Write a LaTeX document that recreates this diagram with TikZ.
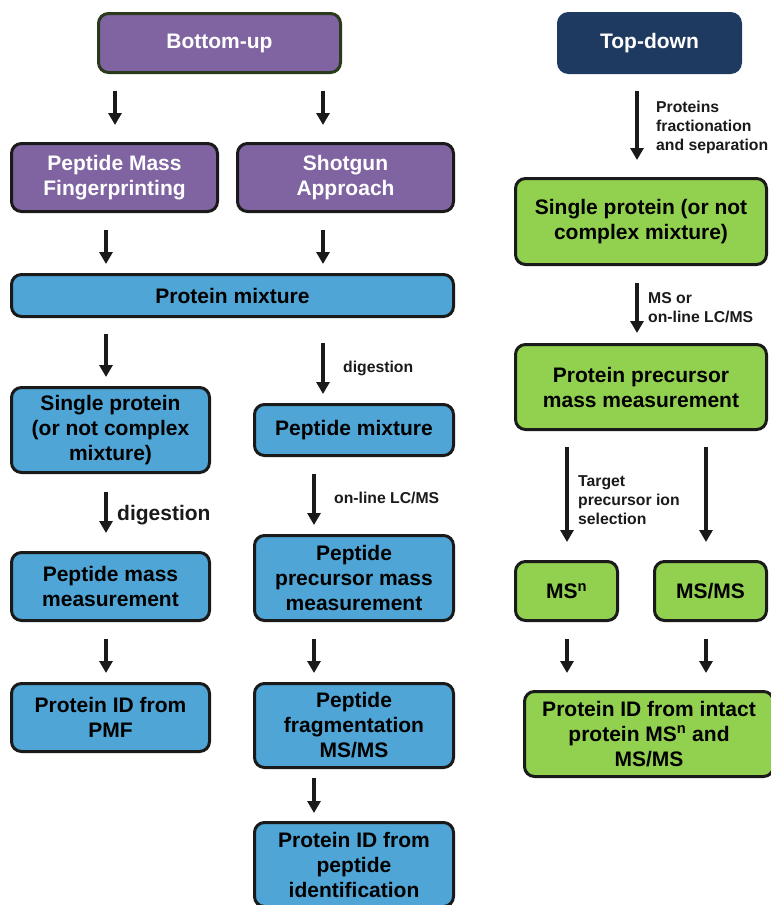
\documentclass[tikz,border=0pt]{standalone}
\usepackage{fontspec}
\setmainfont{Liberation Sans}
\usetikzlibrary{arrows.meta}
\definecolor{purp}{HTML}{8064A2}
\definecolor{bluef}{HTML}{4FA5D5}
\definecolor{greenf}{HTML}{92D050}
\definecolor{navy}{HTML}{1F3A60}
\definecolor{edge}{HTML}{1A1A1A}
\definecolor{olive}{HTML}{2A3A1C}
\begin{document}
\begin{tikzpicture}[x=1pt,y=-1pt,
  box/.style={draw=edge, line width=3pt, rounded corners=10pt, align=center,
    font=\bfseries\fontsize{21}{25}\selectfont, inner sep=0pt},
  pbox/.style={box, fill=purp, text=white},
  bbox/.style={box, fill=bluef, text=black},
  gbox/.style={box, fill=greenf, text=black},
  arr/.style={draw=edge, line width=4pt, -{Triangle[width=13pt,length=12pt]}},
  lab/.style={anchor=west, align=left, font=\bfseries\fontsize{15.75}{19}\selectfont, inner sep=0pt, text=edge}]
\useasboundingbox (0,0) rectangle (771,905);
\clip (0,0) rectangle (771,905);

% Bottom-up column
\node[pbox, draw=olive, minimum width=242pt, minimum height=59pt] (bu) at (219.5,43) {Bottom-up};
\node[pbox, minimum width=206pt, minimum height=68pt] (pmf) at (114.5,177.5) {Peptide Mass\\Fingerprinting};
\node[pbox, minimum width=216pt, minimum height=68pt] (sg) at (345.5,177.5) {Shotgun\\Approach};
\node[bbox, minimum width=442pt, minimum height=42pt] (pm) at (232.5,295.5) {Protein mixture};
\node[bbox, minimum width=198pt, minimum height=85pt] (sp) at (110.5,430) {Single protein\\(or not complex\\mixture)};
\node[bbox, minimum width=199pt, minimum height=51pt] (pepm) at (354,430) {Peptide mixture};
\node[bbox, minimum width=198pt, minimum height=68pt] (pmm) at (110.5,586.5) {Peptide mass\\measurement};
\node[bbox, minimum width=199pt, minimum height=85pt] (ppmm) at (354,578) {Peptide\\precursor mass\\measurement};
\node[bbox, minimum width=198pt, minimum height=68pt] (pid) at (110.5,717.5) {Protein ID from\\PMF};
\node[bbox, minimum width=199pt, minimum height=84pt] (pfrag) at (354,725.5) {Peptide\\fragmentation\\MS/MS};
\node[bbox, minimum width=199pt, minimum height=84pt] (pidpep) at (354,864.5) {Protein ID from\\peptide\\identification};

% Top-down column
\node[box, draw=navy, fill=navy, text=white, minimum width=182pt, minimum height=59pt] (td) at (649.5,43) {Top-down};
\node[gbox, minimum width=251pt, minimum height=86pt] (g1) at (641,221.5) {Single protein (or not\\complex mixture)};
\node[gbox, minimum width=251pt, minimum height=85pt] (g2) at (641,387) {Protein precursor\\mass measurement};
\node[gbox, minimum width=102pt, minimum height=59pt] (msn) at (566.5,591) {MS\textsuperscript{n}};
\node[gbox, minimum width=112pt, minimum height=59pt] (msms) at (710.5,591) {MS/MS};
\node[gbox, minimum width=249pt, minimum height=85pt] (gfin) at (649,734) {Protein ID from intact\\protein MS\textsuperscript{n} and\\MS/MS};

% Bottom-up arrows
\draw[arr, shorten <=17pt, shorten >=17pt] (bu.south -| {115,0}) -- (pmf.north -| {115,0});
\draw[arr, shorten <=17pt, shorten >=17pt] (bu.south -| {323,0}) -- (sg.north -| {323,0});
\draw[arr, shorten <=17pt, shorten >=9pt] (pmf.south -| {106,0}) -- (pm.north -| {106,0});
\draw[arr, shorten <=17pt, shorten >=9pt] (sg.south -| {323,0}) -- (pm.north -| {323,0});
\draw[arr, shorten <=16pt, shorten >=9pt] (pm.south -| {106,0}) -- (sp.north -| {106,0});
\draw[arr, shorten <=25pt, shorten >=9pt] (pm.south -| {323,0}) -- (pepm.north -| {323,0});
\draw[arr, shorten <=18pt, shorten >=18pt] (sp.south -| {106,0}) -- (pmm.north -| {106,0});
\draw[arr, shorten <=17pt, shorten >=9pt] (pepm.south -| {314,0}) -- (ppmm.north -| {314,0});
\draw[arr, shorten <=17pt, shorten >=9pt] (pmm.south -| {106,0}) -- (pid.north -| {106,0});
\draw[arr, shorten <=17pt, shorten >=9pt] (ppmm.south -| {314,0}) -- (pfrag.north -| {314,0});
\draw[arr, shorten <=9pt, shorten >=8pt] (pfrag.south -| {314,0}) -- (pidpep.north -| {314,0});

% Top-down arrows
\draw[arr, shorten <=17pt, shorten >=17pt] (td.south -| {637,0}) -- (g1.north -| {637,0});
\draw[arr, shorten <=17pt, shorten >=10pt] (g1.south -| {637,0}) -- (g2.north -| {637,0});
\draw[arr, shorten <=16pt, shorten >=18pt] (g2.south -| {567,0}) -- (msn.north -| {567,0});
\draw[arr, shorten <=16pt, shorten >=18pt] (g2.south -| {706,0}) -- (msms.north -| {706,0});
\draw[arr, shorten <=17pt, shorten >=17pt] (msn.south -| {567,0}) -- (gfin.north -| {567,0});
\draw[arr, shorten <=17pt, shorten >=17pt] (msms.south -| {706,0}) -- (gfin.north -| {706,0});

% Labels
\node[lab] (l1) at (343,368) {digestion};
\node[lab, font=\bfseries\fontsize{21}{25}\selectfont] (l2) at (117,515) {digestion};
\node[lab] (l3) at (334,498) {on-line LC/MS};
\node[lab] (l4) at (656,127) {Proteins\\fractionation\\and separation};
\node[lab] (l5) at (648,307.5) {MS or\\on-line LC/MS};
\node[lab] (l6) at (578,500.5) {Target\\precursor ion\\selection};
\end{tikzpicture}
\end{document}
